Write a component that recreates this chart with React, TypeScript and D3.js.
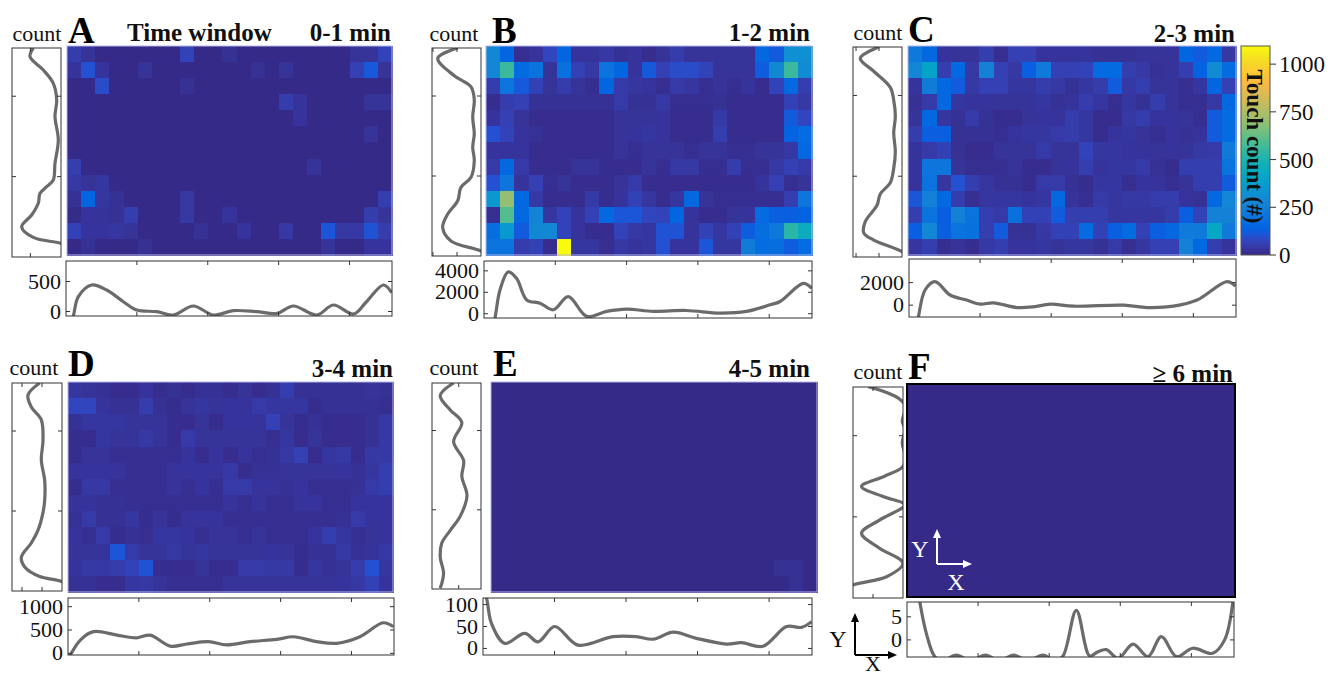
import React from "react";
import * as d3 from "d3";

const NCOL = 23;
const NROW = 13;

// ---------- heat-map counts (rows listed top to bottom, 23 columns) ----------
const heatA = [
  [50,25,0,0,0,0,0,0,70,0,0,20,0,0,0,0,0,0,0,0,25,25,70],
  [30,100,30,0,0,25,0,0,0,0,0,0,0,20,0,25,0,0,0,0,60,115,25],
  [0,0,90,0,0,0,0,0,20,0,0,0,0,0,0,0,0,0,0,0,0,0,0],
  [0,0,0,0,0,0,0,0,0,0,0,0,0,0,0,50,30,0,0,0,0,25,25],
  [0,0,0,0,0,0,0,0,0,0,0,0,0,0,0,0,30,0,0,0,0,0,0],
  [0,0,0,0,0,0,0,0,0,0,0,0,0,0,0,0,0,0,0,0,0,25,0],
  [0,0,0,0,0,0,0,0,0,0,0,0,0,0,0,0,0,0,0,0,0,0,0],
  [55,0,0,0,0,0,0,0,0,0,0,0,0,0,0,0,0,25,0,0,0,0,0],
  [40,25,35,0,0,0,0,0,0,0,0,0,0,0,0,0,0,0,0,0,0,0,0],
  [20,150,35,20,0,0,0,0,40,0,0,0,0,0,0,0,0,0,0,0,0,0,55],
  [5,30,30,20,55,0,0,0,40,0,0,30,0,0,0,0,0,0,0,0,0,50,25],
  [65,30,30,35,25,0,0,0,0,20,0,0,30,0,0,40,0,0,110,40,40,105,50],
  [0,20,0,0,0,20,0,0,0,0,0,0,0,0,0,0,0,0,25,0,0,30,30],
];
const heatB = [
  [290,145,15,30,75,150,30,30,40,20,30,10,25,50,25,25,25,25,25,160,120,320,320],
  [280,560,170,200,25,190,60,40,200,150,30,115,60,90,90,70,25,25,25,125,290,560,300],
  [50,210,115,65,25,50,25,15,150,45,35,30,15,45,35,15,25,15,30,10,70,160,55],
  [10,50,60,20,20,20,20,20,20,45,20,20,40,15,15,15,20,10,10,10,10,65,40],
  [30,60,25,10,10,10,10,10,10,25,25,25,30,10,10,10,45,10,10,10,10,120,75],
  [100,70,30,20,10,10,10,10,10,25,30,35,30,10,10,10,55,10,10,10,10,140,170],
  [30,30,30,10,10,10,10,10,10,25,15,25,25,25,15,25,25,15,15,25,25,40,160],
  [45,160,45,10,10,10,25,25,10,10,10,25,15,40,40,15,15,50,15,15,40,60,45],
  [100,210,30,60,15,25,10,10,10,25,45,10,10,10,10,10,10,10,10,30,60,15,25],
  [350,700,160,40,10,10,10,45,10,30,65,35,10,35,160,25,15,15,15,15,15,55,210],
  [15,600,160,270,35,70,30,65,160,110,110,75,70,150,30,10,10,25,30,170,130,130,140],
  [180,350,120,290,290,70,30,10,10,70,40,35,105,105,30,65,35,65,125,180,220,530,450],
  [200,200,50,65,10,1095,35,35,15,40,30,35,100,30,30,110,35,35,240,175,180,125,170],
];
const heatC = [
  [220,160,30,25,25,55,15,60,60,30,30,30,30,20,20,20,25,25,25,150,120,160,40],
  [280,400,55,160,40,260,60,40,130,230,60,60,70,170,170,55,40,20,30,55,140,300,170],
  [30,240,160,120,40,60,60,35,35,50,40,20,35,50,120,40,55,25,25,15,35,150,60],
  [20,45,160,35,30,30,25,25,25,35,20,30,50,35,15,35,20,50,25,15,15,40,160],
  [25,160,35,20,45,20,10,10,25,30,30,50,35,10,10,40,50,30,30,25,15,120,170],
  [50,130,130,20,20,20,15,30,35,35,45,50,35,10,30,35,25,15,30,20,30,120,170],
  [30,45,65,20,10,10,25,25,25,45,25,25,70,35,35,30,30,25,30,25,40,45,230],
  [30,210,210,25,15,15,15,25,10,10,25,30,55,30,35,35,45,20,10,55,55,55,200],
  [30,200,35,100,55,35,20,20,10,45,45,20,10,35,35,15,30,30,15,25,55,55,120],
  [110,250,160,50,15,35,35,35,30,35,160,30,15,45,35,40,40,50,50,30,20,160,280],
  [55,200,130,260,200,55,45,190,65,65,120,55,55,55,35,35,35,35,50,130,70,260,260],
  [130,280,130,200,190,55,120,20,20,40,65,65,170,65,130,170,60,130,160,230,230,420,230],
  [35,55,15,25,10,40,55,30,30,35,25,35,35,20,45,15,35,60,60,260,160,55,30],
];
const heatD = [
  [35,25,20,10,10,30,10,20,10,20,20,10,25,10,20,55,20,20,20,20,20,25,20],
  [75,75,30,20,20,50,20,10,25,35,25,30,30,45,35,35,35,10,20,20,20,20,15],
  [20,35,35,35,25,25,25,10,10,25,10,30,30,30,60,25,10,20,10,10,10,20,40],
  [10,10,35,25,25,40,25,10,45,25,25,25,25,25,15,35,10,25,10,10,10,20,40],
  [10,25,25,15,15,15,15,15,30,10,30,10,30,15,20,40,60,10,35,40,10,40,40],
  [30,30,30,30,15,15,15,30,30,30,30,40,10,20,20,25,25,25,25,30,20,35,55],
  [10,40,40,15,15,15,15,30,15,30,15,45,45,30,30,20,30,15,15,15,20,45,55],
  [25,30,20,20,15,15,15,15,15,15,15,30,15,30,15,15,30,30,15,15,30,30,30],
  [20,45,20,20,35,10,25,10,30,30,30,15,15,15,15,15,15,15,15,20,45,30,30],
  [30,15,45,10,20,15,35,35,30,15,25,25,15,25,15,15,15,30,55,35,15,25,30],
  [25,25,30,110,45,25,25,40,25,35,25,25,25,25,30,25,10,20,20,40,20,30,40],
  [30,40,40,50,70,105,15,10,10,25,10,10,45,45,40,40,10,35,20,25,50,100,35],
  [20,20,10,10,35,40,25,15,15,15,15,25,25,25,25,25,25,25,25,30,40,65,30],
];
const heatE = [
  [0,0,0,0,0,0,0,0,0,0,0,0,0,0,0,0,0,0,0,0,0,0,0],
  [0,0,0,0,0,0,0,0,0,0,0,0,0,0,0,0,0,0,0,0,0,0,0],
  [0,0,0,0,0,0,0,0,0,0,0,0,0,0,0,0,0,0,0,0,0,0,0],
  [0,0,0,0,0,0,0,0,0,0,0,0,0,0,0,0,0,0,0,0,0,0,0],
  [0,0,0,0,0,0,0,0,0,0,0,0,0,0,0,0,0,0,0,0,0,0,0],
  [0,0,0,0,0,0,0,0,0,0,0,0,0,0,0,0,0,0,0,0,0,0,0],
  [0,0,0,0,0,0,0,0,0,0,0,0,0,0,0,0,0,0,0,0,0,0,0],
  [0,0,0,0,0,0,0,0,0,0,0,0,0,0,0,0,0,0,0,0,0,0,0],
  [0,0,0,0,0,0,0,0,0,0,0,0,0,0,0,0,0,0,0,0,0,0,0],
  [0,0,0,0,0,0,0,0,0,0,0,0,0,0,0,0,0,0,0,0,0,0,0],
  [0,0,0,0,0,0,0,0,0,0,0,0,0,0,0,0,0,0,0,0,0,0,0],
  [0,0,0,0,0,0,0,0,0,0,0,0,0,0,0,0,0,0,0,0,20,20,0],
  [0,0,0,0,0,0,0,0,0,0,0,0,0,0,0,0,0,0,0,0,0,20,0],
];
const heatF = [
  [0,0,0,0,0,0,0,0,0,0,0,0,0,0,0,0,0,0,0,0,0,0,0],
  [0,0,0,0,0,0,0,0,0,0,0,0,0,0,0,0,0,0,0,0,0,0,0],
  [0,0,0,0,0,0,0,0,0,0,0,0,0,0,0,0,0,0,0,0,0,0,0],
  [0,0,0,0,0,0,0,0,0,0,0,0,0,0,0,0,0,0,0,0,0,0,0],
  [0,0,0,0,0,0,0,0,0,0,0,0,0,0,0,0,0,0,0,0,0,0,0],
  [0,0,0,0,0,0,0,0,0,0,0,0,0,0,0,0,0,0,0,0,0,0,0],
  [0,0,0,0,0,0,0,0,0,0,0,0,0,0,0,0,0,0,0,0,0,0,0],
  [0,0,0,0,0,0,0,0,0,0,0,0,0,0,0,0,0,0,0,0,0,0,0],
  [0,0,0,0,0,0,0,0,0,0,0,0,0,0,0,0,0,0,0,0,0,0,0],
  [0,0,0,0,0,0,0,0,0,0,0,0,0,0,0,0,0,0,0,0,0,0,0],
  [0,0,0,0,0,0,0,0,0,0,0,0,0,0,0,0,0,0,0,0,0,0,0],
  [0,0,0,0,0,0,0,0,0,0,0,0,0,0,0,0,0,0,0,0,0,0,0],
  [0,0,0,0,0,0,0,0,0,0,0,0,0,0,0,0,0,0,0,0,0,0,0],
];

// ---------- left marginal (count per row; row position from bottom, 0..13) ----------
const leftRowsA = [13.0,12.46,11.63,10.8,9.76,8.73,7.28,5.83,4.79,4.37,3.96,3.34,2.61,1.88,1.22,0.85,0.4];
const leftCountsA = [452,506,289,126,70,98,44,98,126,234,343,371,479,642,452,0,-350];
const leftRowsB = [13.0,12.36,11.26,10.57,9.74,8.69,7.64,6.8,5.97,4.92,4.29,3.45,2.62,1.78,0.94,0.31,0];
const leftCountsB = [1940,3600,2220,830,560,690,560,690,560,830,1670,1940,2770,3190,2500,0,-500];
const leftRowsC = [13.0,12.3,11.5,10.5,9.7,8.7,7.7,6.5,5.5,4.6,3.9,3.2,2.2,1.5,1.05,0.33,0];
const leftCountsC = [2030,3630,2460,1020,720,580,720,580,720,1020,1890,2175,3190,3330,2460,0,-520];
const leftRowsD = [13.0,12.25,11.5,10.7,9.4,8.2,6.9,5.7,4.9,3.8,3.0,2.1,1.5,0.9,0.6,0.2];
const leftCountsD = [1115,1700,1535,1035,950,1035,865,865,950,1200,1535,2035,1865,1115,35,-400];
const leftRowsE = [13.0,12.2,11.3,10.5,9.3,8.1,7.1,5.9,4.6,3.7,2.9,2.0,1.0,0.04];
const leftCountsE = [123,183,138,86,123,78,86,63,93,138,176,183,168,183];
const leftRowsF = [13.04,12.33,11.8,10.9,10.4,9.55,8.83,8.1,7.5,6.87,6.25,5.74,4.8,3.99,3.07,2.14,1.31,0.8,0.3];
const leftCountsF = [7,1,-0.5,0.15,-0.4,0.15,-0.4,0,3.7,8.3,4,-0.3,4.7,8.3,4.7,0,3.3,10,13];

// ---------- bottom marginal (count per column; column position 0..23) ----------
const bottomColsA = [0.3,0.52,0.87,1.81,2.87,4.05,4.99,6.4,7.57,8.98,10.4,11.8,13.45,14.9,16.04,17.7,18.86,20.28,21.2,22.4,22.98];
const bottomCountsA = [-250,-75,247,442,358,163,25,-3,-58,92,-58,14,-3,-30,92,-58,108,-42,163,442,313];
const bottomColsB = [0.6,0.77,1.12,1.7,2.29,3.0,3.93,4.86,5.91,7.2,8.6,10.0,11.87,14.2,16.55,18.4,20.06,20.76,22.39,22.98];
const bottomCountsB = [-1200,-400,2215,3900,3290,1290,985,370,1600,-250,215,430,215,300,60,215,830,1140,2830,2370];
const bottomColsC = [0.5,0.66,1.13,1.83,2.89,4.06,5.0,5.94,7.58,8.75,9.93,11.57,15.09,16.74,18.61,20.26,22.37,22.96];
const bottomCountsC = [-2000,-1050,1345,2090,900,450,90,210,-210,-150,90,-90,0,-210,-90,450,2090,1700];
const bottomColsD = [0.0,0.16,0.87,1.8,3.45,4.86,5.8,7.21,8.39,9.91,11.2,12.85,14.73,15.9,17.55,18.96,20.6,22.24,22.95];
const bottomCountsD = [-120,-36,285,465,390,333,390,155,200,250,180,250,300,355,250,215,355,655,570];
const bottomColsE = [0.0,0.24,0.59,1.52,2.92,3.85,5.01,6.64,9.09,10.72,11.89,13.29,14.92,17.02,18.07,19.58,21.22,22.27,22.97];
const bottomCountsE = [130,115,57,11.5,34.5,15,50,7.6,27,27,21,37,23,10,13,5,50,48,61];
const bottomColsF = [0.6,0.9,1.36,1.95,2.5,3.47,4.5,5.5,6.5,7.5,8.5,9.56,10.4,10.97,11.91,12.85,13.4,14.02,14.85,15.9,16.95,17.89,18.95,20.1,21.5,22.34,22.93];
const bottomCountsF = [14,8.2,1.4,-3.6,-4.5,-3.3,-4.5,-3.3,-4.5,-3.3,-4.5,-3.3,-4.5,-3.5,6.4,-3.5,-2.6,-2.1,-4,-0.9,-3.6,0.7,-3.6,-1.8,-2.9,0,8.5];

// ---------- axis ticks / labels ----------
const bottomTicksA = [0, 500];
const bottomTicksB = [0, 2000, 4000];
const bottomTicksC = [0, 2000];
const bottomTicksD = [0, 500, 1000];
const bottomTicksE = [0, 50, 100];
const bottomTicksF = [0, 5];
const leftTicksA = [500];
const leftTicksB = [2000, 4000];
const leftTicksC = [2000, 4000];
const leftTicksD = [1000, 2000];
const leftTicksE = [100];
const leftTicksF = [6];
const colTicks = [5, 10, 15, 20];
const rowTicks = [5, 10];
const colorTicks = [0, 250, 500, 750, 1000];
const colorMax = 1095;
const panelLetters = ["A", "B", "C", "D", "E", "F"];
const panelTitles = ["0-1 min", "1-2 min", "2-3 min", "3-4 min", "4-5 min", "\u2265 6 min"];

// ---------- parula colormap (index of 64, colour) ----------
const parula: [number, string][] = [
  [0, "#352a87"], [1, "#363093"], [2, "#3636a0"], [3, "#353dad"], [4, "#3243ba"],
  [5, "#2c4ac7"], [6, "#2053d4"], [7, "#0f5cdd"], [8, "#0363e1"], [10, "#046de0"],
  [12, "#0d75dc"], [15, "#1481d6"], [18, "#108ed2"], [21, "#079ccf"], [24, "#06a7c6"],
  [27, "#0faeb9"], [30, "#25b5a9"], [33, "#42bb98"], [36, "#65be86"], [39, "#87bf77"],
  [42, "#a5be6b"], [45, "#c0bc60"], [48, "#d9ba56"], [51, "#f1b94a"], [53, "#fdbe3d"],
  [55, "#fec832"], [58, "#f7d826"], [61, "#f5eb18"], [63, "#f9fb0e"],
];
const color = d3
  .scaleLinear<string>()
  .domain(parula.map((p) => (p[0] / 63) * colorMax))
  .range(parula.map((p) => p[1]))
  .interpolate(d3.interpolateRgb)
  .clamp(true);

// ---------- layout (pixel boxes: x0, y0, x1, y1) ----------
type Box = [number, number, number, number];
interface Layout {
  left: Box; heat: Box; bottom: Box;
  countX: number; countY: number; letterX: number; letterY: number; titleX: number; titleY: number;
}
const layouts: Layout[] = [
  { left: [12, 48, 61, 257], heat: [67, 46, 392, 255], bottom: [66, 261, 392, 316], countX: 37, countY: 41, letterX: 68, letterY: 43, titleX: 391, titleY: 41 },
  { left: [432, 48, 481, 256], heat: [486, 46, 812, 255], bottom: [484, 261, 812, 318], countX: 454, countY: 41, letterX: 492, letterY: 43, titleX: 810, titleY: 41 },
  { left: [853, 47, 902, 257], heat: [908, 46, 1236, 255], bottom: [909, 259, 1236, 317], countX: 878, countY: 40, letterX: 908, letterY: 42, titleX: 1235, titleY: 42 },
  { left: [12, 383, 62, 591], heat: [68, 382, 393, 592], bottom: [68, 598, 394, 655], countX: 34, countY: 375, letterX: 68, letterY: 376, titleX: 393, titleY: 377 },
  { left: [432, 383, 481, 589], heat: [491, 382, 817, 592], bottom: [483, 598, 812, 655], countX: 454, countY: 375, letterX: 493, letterY: 376, titleX: 810, titleY: 377 },
  { left: [853, 387, 903, 598], heat: [907, 384, 1235, 597], bottom: [907, 602, 1234, 657], countX: 878, countY: 379, letterX: 908, letterY: 379, titleX: 1233, titleY: 382 },
];

interface PanelSpec {
  heat: number[][];
  leftRows: number[]; leftCounts: number[]; leftMax: number; leftTicks: number[];
  bottomCols: number[]; bottomCounts: number[]; bottomDomain: [number, number]; bottomTicks: number[];
}
const panels: PanelSpec[] = [
  { heat: heatA, leftRows: leftRowsA, leftCounts: leftCountsA, leftMax: 800, leftTicks: leftTicksA, bottomCols: bottomColsA, bottomCounts: bottomCountsA, bottomDomain: [-75, 842], bottomTicks: bottomTicksA },
  { heat: heatB, leftRows: leftRowsB, leftCounts: leftCountsB, leftMax: 4080, leftTicks: leftTicksB, bottomCols: bottomColsB, bottomCounts: bottomCountsB, bottomDomain: [-400, 4920], bottomTicks: bottomTicksB },
  { heat: heatC, leftRows: leftRowsC, leftCounts: leftCountsC, leftMax: 4263, leftTicks: leftTicksC, bottomCols: bottomColsC, bottomCounts: bottomCountsC, bottomDomain: [-1050, 4095], bottomTicks: bottomTicksC },
  { heat: heatD, leftRows: leftRowsD, leftCounts: leftCountsD, leftMax: 2500, leftTicks: leftTicksD, bottomCols: bottomColsD, bottomCounts: bottomCountsD, bottomDomain: [-36, 1186], bottomTicks: bottomTicksD },
  { heat: heatE, leftRows: leftRowsE, leftCounts: leftCountsE, leftMax: 220, leftTicks: leftTicksE, bottomCols: bottomColsE, bottomCounts: bottomCountsE, bottomDomain: [-15, 115], bottomTicks: bottomTicksE },
  { heat: heatF, leftRows: leftRowsF, leftCounts: leftCountsF, leftMax: 10, leftTicks: leftTicksF, bottomCols: bottomColsF, bottomCounts: bottomCountsF, bottomDomain: [-3.7, 8.2], bottomTicks: bottomTicksF },
];

const SERIF = "'Liberation Serif', 'Times New Roman', Times, serif";
const AX = "#333333";
const CURVE = "#6b6b6b";
const TL = 4;

function Panel({ p, L, idx }: { p: PanelSpec; L: Layout; idx: number }) {
  const [hx0, hy0, hx1, hy1] = L.heat;
  const xh = d3.scaleBand<number>().domain(d3.range(NCOL)).range([hx0, hx1]);
  const yh = d3.scaleBand<number>().domain(d3.range(NROW)).range([hy0, hy1]);

  const [bx0, by0, bx1, by1] = L.bottom;
  const xb = d3.scaleLinear().domain([0, NCOL]).range([bx0, bx1]);
  const yb = d3.scaleLinear().domain(p.bottomDomain).range([by1, by0]);

  const [lx0, ly0, lx1, ly1] = L.left;
  const yl = d3.scaleLinear().domain([0, NROW]).range([ly1, ly0]);
  const xl = d3.scaleLinear().domain([0, p.leftMax]).range([lx1, lx0]);

  const line = d3.line<[number, number]>().curve(d3.curveCatmullRom.alpha(0.5));
  const bottomPath = line(p.bottomCols.map((c, i) => [xb(c), yb(p.bottomCounts[i])] as [number, number])) || "";
  const leftPath = line(p.leftRows.map((r, i) => [xl(p.leftCounts[i]), yl(r)] as [number, number])) || "";

  const isF = idx === 5;
  const bw = xh.bandwidth();
  const bh = yh.bandwidth();

  return (
    <g>
      <defs>
        <clipPath id={`clipB${idx}`}>
          <rect x={bx0} y={by0} width={bx1 - bx0} height={by1 - by0} />
        </clipPath>
        <clipPath id={`clipL${idx}`}>
          <rect x={lx0} y={ly0} width={lx1 - lx0} height={ly1 - ly0} />
        </clipPath>
      </defs>

      {/* heat map */}
      <g shapeRendering="crispEdges">
        {p.heat.map((row, r) =>
          row.map((v, c) => (
            <rect key={`${r}-${c}`} x={xh(c)!} y={yh(r)!} width={bw + 0.6} height={bh + 0.6} fill={color(v)} />
          ))
        )}
      </g>
      <rect x={hx0} y={hy0} width={hx1 - hx0} height={hy1 - hy0} fill="none"
        stroke={isF ? "#000" : "#b4b4e4"} strokeWidth={isF ? 2 : 1} />

      {/* bottom marginal */}
      <g clipPath={`url(#clipB${idx})`}>
        <path d={bottomPath} fill="none" stroke={CURVE} strokeWidth={3.2} strokeLinejoin="round" />
      </g>
      <rect x={bx0} y={by0} width={bx1 - bx0} height={by1 - by0} fill="none" stroke={AX} strokeWidth={1} />
      {colTicks.map((t) => (
        <g key={`bt${t}`} stroke={AX} strokeWidth={1}>
          <line x1={xb(t)} x2={xb(t)} y1={by0} y2={by0 + TL} />
          <line x1={xb(t)} x2={xb(t)} y1={by1} y2={by1 - TL} />
        </g>
      ))}
      {p.bottomTicks.map((t) => (
        <g key={`by${t}`}>
          <line x1={bx0} x2={bx0 + TL} y1={yb(t)} y2={yb(t)} stroke={AX} />
          <line x1={bx1} x2={bx1 - TL} y1={yb(t)} y2={yb(t)} stroke={AX} />
          <text x={bx0 - 5} y={yb(t) + 7} textAnchor="end" fontFamily={SERIF} fontSize={22} fill="#111">
            {t}
          </text>
        </g>
      ))}

      {/* left marginal */}
      <g clipPath={`url(#clipL${idx})`}>
        <path d={leftPath} fill="none" stroke={CURVE} strokeWidth={3.2} strokeLinejoin="round" />
      </g>
      <rect x={lx0} y={ly0} width={lx1 - lx0} height={ly1 - ly0} fill="none" stroke={AX} strokeWidth={1} />
      {rowTicks.map((t) => (
        <g key={`lr${t}`} stroke={AX}>
          <line x1={lx0} x2={lx0 + TL} y1={yl(t)} y2={yl(t)} />
          <line x1={lx1} x2={lx1 - TL} y1={yl(t)} y2={yl(t)} />
        </g>
      ))}
      {p.leftTicks.map((t) => (
        <g key={`lc${t}`} stroke={AX}>
          <line x1={xl(t)} x2={xl(t)} y1={ly1} y2={ly1 - TL} />
          <line x1={xl(t)} x2={xl(t)} y1={ly0} y2={ly0 + TL} />
        </g>
      ))}

      {/* labels */}
      <text x={L.countX} y={L.countY} textAnchor="middle" fontFamily={SERIF} fontSize={22} fill="#111">count</text>
      <text x={L.letterX} y={L.letterY} fontFamily={SERIF} fontWeight="bold" fontSize={37} fill="#000">{panelLetters[idx]}</text>
      <text x={L.titleX} y={L.titleY} textAnchor="end" fontFamily={SERIF} fontWeight="bold" fontSize={25} fill="#111">{panelTitles[idx]}</text>
    </g>
  );
}

function Colorbar() {
  const x0 = 1241, x1 = 1270, y0 = 46, y1 = 255;
  const y = d3.scaleLinear().domain([0, colorMax]).range([y1, y0]);
  return (
    <g>
      <defs>
        <linearGradient id="cbar" x1="0" y1="1" x2="0" y2="0">
          {parula.map((p) => (
            <stop key={p[0]} offset={p[0] / 63} stopColor={p[1]} />
          ))}
        </linearGradient>
      </defs>
      <rect x={x0} y={y0} width={x1 - x0} height={y1 - y0} fill="url(#cbar)" stroke="#555" strokeWidth={1} />
      {colorTicks.map((t) => (
        <g key={t}>
          <line x1={x1} x2={x1 + 6} y1={y(t)} y2={y(t)} stroke={AX} />
          <text x={x1 + 9} y={y(t) + 8} fontFamily={SERIF} fontSize={23} fill="#111">{t}</text>
        </g>
      ))}
      <text transform={`translate(${(x0 + x1) / 2 - 1},${(y0 + y1) / 2 - 4}) rotate(90)`} textAnchor="middle" dominantBaseline="central"
        fontFamily={SERIF} fontWeight="bold" fontSize={23} fill="#111">Touch count (#)</text>
    </g>
  );
}

function Arrows({ x, y, len, colorStr }: { x: number; y: number; len: number; colorStr: string }) {
  return (
    <g stroke={colorStr} fill={colorStr} strokeWidth={2}>
      <line x1={x} y1={y} x2={x} y2={y - len + 4} />
      <polygon points={`${x},${y - len - 2} ${x - 4},${y - len + 7} ${x + 4},${y - len + 7}`} stroke="none" />
      <line x1={x} y1={y} x2={x + len - 4} y2={y} />
      <polygon points={`${x + len + 2},${y} ${x + len - 7},${y - 4} ${x + len - 7},${y + 4}`} stroke="none" />
    </g>
  );
}

export default function App() {
  return (
    <svg width={1332} height={677} style={{ position: "absolute", left: 0, top: 0, background: "#fff" }}>
      <rect x={0} y={0} width={1332} height={677} fill="#fff" />
      {panels.map((p, i) => (
        <Panel key={i} p={p} L={layouts[i]} idx={i} />
      ))}
      <text x={127} y={41} fontFamily={SERIF} fontWeight="bold" fontSize={25} fill="#111">Time window</text>
      <Colorbar />
      {/* orientation marks */}
      <Arrows x={937} y={564} len={33} colorStr="#fff" />
      <text x={920} y={557} textAnchor="middle" fontFamily={SERIF} fontSize={24} fill="#fff">Y</text>
      <text x={956} y={590} textAnchor="middle" fontFamily={SERIF} fontSize={24} fill="#fff">X</text>
      <Arrows x={855} y={655} len={40} colorStr="#000" />
      <text x={838} y={647} textAnchor="middle" fontFamily={SERIF} fontSize={24} fill="#111">Y</text>
      <text x={873} y={671} textAnchor="middle" fontFamily={SERIF} fontSize={22} fill="#111">X</text>
    </svg>
  );
}
